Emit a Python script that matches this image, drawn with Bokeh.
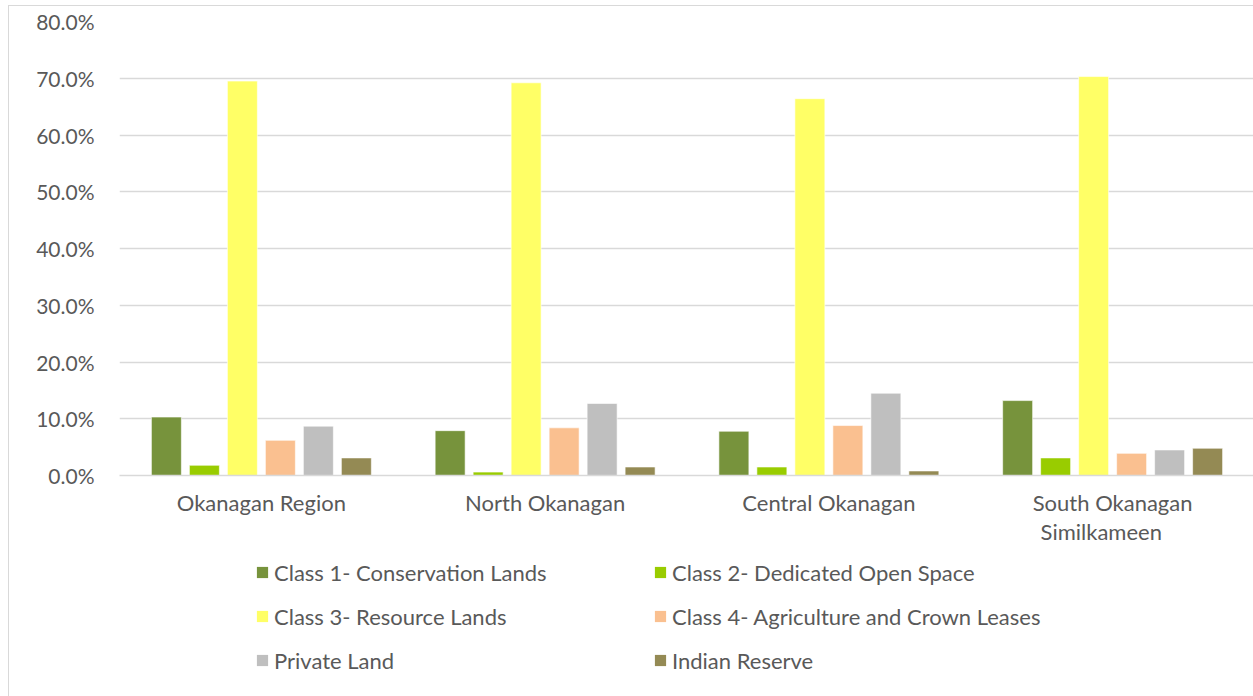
from bokeh.plotting import figure
from bokeh.layouts import column
from bokeh.models import (ColumnDataSource, Legend, LegendItem, Range1d,
                          PrintfTickFormatter, FixedTicker, LinearAxis)
from bokeh.transform import dodge
from bokeh.embed import file_html
from bokeh.resources import INLINE

# Share of land base by class, per area (%)
regions = ["Okanagan Region", "North Okanagan", "Central Okanagan",
           "South Okanagan Similkameen"]
label_line1 = ["Okanagan Region", "North Okanagan", "Central Okanagan",
               "South Okanagan"]
label_line2 = ["", "", "", "Similkameen"]
class1_conservation = [10.3, 7.9, 7.8, 13.2]
class2_open_space = [1.8, 0.6, 1.5, 3.1]
class3_resource = [69.5, 69.2, 66.4, 70.3]
class4_agriculture = [6.2, 8.4, 8.8, 3.9]
private_land = [8.7, 12.7, 14.5, 4.5]
indian_reserve = [3.1, 1.5, 0.8, 4.8]

series_names = ["Class 1- Conservation Lands", "Class 2- Dedicated Open Space",
                "Class 3- Resource Lands", "Class 4- Agriculture and Crown Leases",
                "Private Land", "Indian Reserve"]
series_keys = ["c1", "c2", "c3", "c4", "pl", "ir"]
colors = ["#77933C", "#99CC00", "#FFFF66", "#FAC090", "#BFBFBF", "#948A54"]
y_ticks = [0, 10, 20, 30, 40, 50, 60, 70, 80]

# each region occupies one unit on the x scale, centred at i + 0.5
pos = [i + 0.5 for i in range(len(regions))]

source = ColumnDataSource(dict(
    pos=pos, region=regions, c1=class1_conservation, c2=class2_open_space,
    c3=class3_resource, c4=class4_agriculture, pl=private_land,
    ir=indian_reserve))

TEXT_COLOR = "#595959"
FONT = "Lato"

p = figure(x_range=Range1d(0, len(regions)), y_range=Range1d(0, 80),
           width=1245, height=548, output_backend="svg",
           toolbar_location=None, x_axis_location=None,
           min_border_left=110, min_border_right=0, min_border_top=15,
           min_border_bottom=79)
p.outline_line_color = None
p.border_fill_color = "white"

bar_w = 0.1057
pitch = 0.1339
renderers = []
for i, (key, col) in enumerate(zip(series_keys, colors)):
    off = (i - 2.5) * pitch
    r = p.vbar(x=dodge("pos", off), top=key, width=bar_w, source=source,
               fill_color=col, line_color="white", line_width=0.6)
    renderers.append(r)

# Grid and value axis
p.xgrid.grid_line_color = None
p.ygrid.grid_line_color = "#D9D9D9"
p.ygrid.grid_line_width = 1.3
p.yaxis.ticker = FixedTicker(ticks=y_ticks)
p.yaxis.formatter = PrintfTickFormatter(format="%.1f%%")
p.yaxis.axis_line_color = None
p.yaxis.major_tick_line_color = None
p.yaxis.minor_tick_line_color = None
p.yaxis.major_label_standoff = 19
p.yaxis.major_label_text_font = FONT
p.yaxis.major_label_text_font_size = "21px"
p.yaxis.major_label_text_color = TEXT_COLOR

# Category axis, with the long name split over two lines
def category_axis(ticks, lines, standoff, line_color):
    ax = LinearAxis(ticker=FixedTicker(ticks=ticks),
                    major_label_overrides=dict(zip(ticks, lines)),
                    axis_line_color=line_color, axis_line_width=1.3,
                    major_tick_line_color=None, minor_tick_line_color=None,
                    major_label_standoff=standoff,
                    major_label_text_font=FONT,
                    major_label_text_font_size="22px",
                    major_label_text_color=TEXT_COLOR)
    return ax

# the wrapped second line sits slightly left of its first line
pos_line2 = [x - 0.04 for x in pos]
p.add_layout(category_axis(pos, label_line1, 7, "#D9D9D9"), "below")
p.add_layout(category_axis(pos_line2, label_line2, -7, None), "below")

# Legend panel: two columns of three entries
lp = figure(x_range=Range1d(0, 1), y_range=Range1d(0, 1), width=1245,
            height=142, output_backend="svg", toolbar_location=None,
            x_axis_location=None, y_axis_location=None, min_border=0)
lp.outline_line_color = None
lp.border_fill_color = "white"
lp.background_fill_color = "white"
lp.grid.visible = False
keys = []
for col in colors:
    # zero-height swatch bars: only their legend entries are seen
    keys.append(lp.vbar(x=[0.5], top=[0], width=0.01, fill_color=col,
                        line_color=None))

def legend_block(idx, x):
    return Legend(items=[LegendItem(label=series_names[i], renderers=[keys[i]])
                         for i in idx],
                  location=(x, 22), orientation="vertical",
                  glyph_width=14, glyph_height=14, label_height=28,
                  spacing=16, padding=0, margin=0, label_standoff=5,
                  border_line_color=None, background_fill_alpha=0,
                  label_text_font=FONT,
                  label_text_font_size="22px", label_text_color=TEXT_COLOR)

lp.add_layout(legend_block([0, 2, 4], 136), "center")
lp.add_layout(legend_block([1, 3, 5], 534), "center")

page = column(p, lp, spacing=0, margin=(5, 0, 0, 8),
              styles={"border": "1px solid #d9d9d9"})

open("out.html", "w").write(file_html(page, INLINE))
